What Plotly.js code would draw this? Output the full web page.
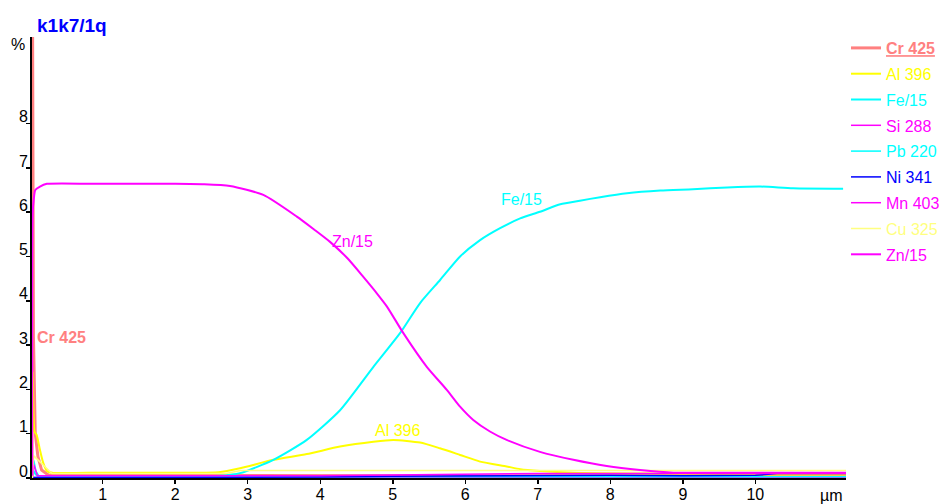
<!DOCTYPE html>
<html><head><meta charset="utf-8">
<script src="https://cdn.plot.ly/plotly-3.0.1.min.js"></script>
<style>html,body{margin:0;padding:0;background:#fff;}#chart{width:945px;height:504px;}</style>
</head><body><div id="chart"></div>
<script>
// ---- data (depth in µm, concentration in %) ----
const crX = [0.03, 0.035, 0.045, 0.07, 0.107, 0.158, 0.25, 1.0, 3.0, 5.0, 7.0, 9.0, 11.25];
const crY = [12, 9, 3.2, 1.0, 0.48, 0.18, 0.07, 0.06, 0.05, 0.05, 0.05, 0.05, 0.05];

const alX = [0.03, 0.035, 0.06, 0.09, 0.135, 0.18, 0.23, 0.3, 1.0, 2.0, 2.6, 2.894, 3.354, 3.814, 4.273, 4.733, 5.01, 5.377, 5.65, 5.928, 6.204, 6.57, 6.757, 7.03, 7.5, 8.5, 9.5, 10.5, 11.25];
const alY = [0.0, 2.4, 1.05, 0.97, 0.63, 0.34, 0.16, 0.12, 0.12, 0.12, 0.13, 0.22, 0.41, 0.54, 0.71, 0.82, 0.86, 0.80, 0.67, 0.52, 0.37, 0.26, 0.20, 0.16, 0.12, 0.10, 0.08, 0.08, 0.08];

const feX = [0.03, 0.05, 0.1, 0.2, 1.0, 2.0, 2.6, 2.894, 3.354, 3.814, 4.273, 4.733, 5.1, 5.377, 5.653, 5.928, 6.204, 6.48, 6.757, 7.03, 7.31, 7.58, 7.86, 8.23, 8.69, 9.14, 9.61, 10.07, 10.52, 11.21];
const feY = [0.3, 0.15, 0.05, 0.03, 0.02, 0.02, 0.05, 0.11, 0.41, 0.86, 1.53, 2.51, 3.27, 3.95, 4.47, 5.00, 5.37, 5.64, 5.86, 6.01, 6.18, 6.26, 6.34, 6.43, 6.49, 6.52, 6.56, 6.58, 6.54, 6.53];

const siX = [0.03, 2.0, 5.0, 8.0, 11.25];
const siY = [0.01, 0.01, 0.01, 0.01, 0.01];

const pbX = [0.03, 0.05, 0.08, 0.12, 1.0, 11.25];
const pbY = [0.0, 0.4, 0.15, 0.05, 0.03, 0.03];

const niX = [0.03, 4.0, 5.0, 6.0, 7.0, 8.0, 9.0, 10.0, 10.3, 10.8, 11.25];
const niY = [0.01, 0.02, 0.04, 0.05, 0.05, 0.06, 0.05, 0.06, 0.10, 0.11, 0.10];

const mnX = [0.03, 0.05, 0.1, 4.0, 7.0, 11.25];
const mnY = [0.0, 0.3, 0.05, 0.05, 0.10, 0.10];

const cuX = [0.03, 0.05, 0.3, 2.7, 2.9, 11.25];
const cuY = [0.0, 0.5, 0.10, 0.10, 0.17, 0.17];

const znX = [0.03, 0.035, 0.05, 0.07, 0.135, 0.23, 1.0, 2.0, 2.4, 2.756, 3.215, 3.677, 3.915, 4.135, 4.375, 4.594, 4.78, 4.92, 5.146, 5.469, 5.745, 5.928, 6.11, 6.34, 6.57, 7.03, 7.49, 7.95, 8.41, 8.87, 9.5, 10.5, 11.25];
const znY = [0.05, 6.0, 6.3, 6.5, 6.58, 6.64, 6.64, 6.64, 6.63, 6.59, 6.39, 5.90, 5.61, 5.33, 4.96, 4.54, 4.17, 3.87, 3.27, 2.51, 1.99, 1.61, 1.31, 1.05, 0.86, 0.59, 0.41, 0.27, 0.18, 0.12, 0.12, 0.12, 0.12];

const xTickVals = [1, 2, 3, 4, 5, 6, 7, 8, 9, 10];
const yTickVals = [0, 1, 2, 3, 4, 5, 6, 7, 8];

const FONT = 'Liberation Sans, Arial, sans-serif';

function tr(name, x, y, color, width, smooth) {
  const line = {color: color, width: width};
  if (smooth) { line.shape = 'spline'; line.smoothing = 0.6; }
  return {
    type: 'scatter', mode: 'lines', x: x, y: y,
    name: '<span style="color:' + color + '">' + name + '</span>',
    legendgroup: name,
    line: line, hoverinfo: 'skip'
  };
}

const traces = [
  tr('<b><u>Cr 425</u></b>', crX, crY, '#ff8080', 3, false),
  tr('Al 396', alX, alY, '#ffff00', 2, true),
  tr('Fe/15', feX, feY, '#00ffff', 2, true),
  tr('Si 288', siX, siY, '#ff00ff', 1.5, false),
  tr('Pb 220', pbX, pbY, '#00ffff', 1.5, false),
  tr('Ni 341', niX, niY, '#0000ff', 1.5, false),
  tr('Mn 403', mnX, mnY, '#ff00ff', 1.5, false),
  tr('Cu 325', cuX, cuY, '#ffff80', 1.5, false),
  tr('Zn/15', znX, znY, '#ff00ff', 2, true)
];

const layout = {
  width: 945, height: 504,
  margin: {l: 32, r: 99, t: 37, b: 26, autoexpand: false},
  paper_bgcolor: '#ffffff', plot_bgcolor: '#ffffff',
  font: {family: FONT, size: 16, color: '#000'},
  showlegend: true,
  legend: {x: 1.0, xanchor: 'left', y: 1.0136, yanchor: 'top', bgcolor: 'rgba(0,0,0,0)',
           font: {family: FONT, size: 16}, tracegroupgap: 2, traceorder: 'grouped',
           itemwidth: 30},
  title: {text: '<b>k1k7/1q</b>', font: {family: FONT, size: 19, color: '#0000ff'},
          x: 37 / 945, xanchor: 'left', xref: 'container', y: 1 - 25 / 504, yanchor: 'middle', yref: 'container'},
  xaxis: {range: [0.025, 11.25], showgrid: false, zeroline: false, showline: true,
          linecolor: '#000', linewidth: 2, ticks: 'outside', ticklen: 4, tickwidth: 1.5, tickcolor: '#000',
          ticklabelstandoff: -3,
          tickvals: xTickVals, ticktext: xTickVals.map(String), tickfont: {family: FONT, size: 16, color: '#000'}},
  yaxis: {range: [0, 9.955], showgrid: false, zeroline: false, showline: true,
          linecolor: '#000', linewidth: 2, ticks: 'outside', ticklen: 4, tickwidth: 1.5, tickcolor: '#000',
          tickvals: yTickVals, ticktext: yTickVals.map(String), ticklabelshift: -7, ticklabelstandoff: -5,
          tickfont: {family: FONT, size: 16, color: '#000'}},
  annotations: [
    {text: '%', xref: 'paper', yref: 'paper', x: -0.017, y: 0.982, xanchor: 'center', yanchor: 'middle', showarrow: false, font: {size: 16, color: '#000'}},
    {text: 'µm', xref: 'x', yref: 'paper', x: 11.05, y: 0, yshift: -17, xanchor: 'center', yanchor: 'middle', showarrow: false, font: {size: 16, color: '#000'}},
    {text: '<b>Cr 425</b>', xref: 'x', yref: 'y', x: 0.066, y: 3.18, xanchor: 'left', yanchor: 'middle', showarrow: false, font: {size: 16, color: '#ff8080'}},
    {text: 'Zn/15', xref: 'x', yref: 'y', x: 4.45, y: 5.33, xanchor: 'center', yanchor: 'middle', showarrow: false, font: {size: 16, color: '#ff00ff'}},
    {text: 'Fe/15', xref: 'x', yref: 'y', x: 6.77, y: 6.28, xanchor: 'center', yanchor: 'middle', showarrow: false, font: {size: 16, color: '#00ffff'}},
    {text: 'Al 396', xref: 'x', yref: 'y', x: 5.06, y: 1.08, xanchor: 'center', yanchor: 'middle', showarrow: false, font: {size: 16, color: '#ffff00'}}
  ]
};

Plotly.newPlot('chart', traces, layout, {displayModeBar: false, staticPlot: true});
</script></body></html>
